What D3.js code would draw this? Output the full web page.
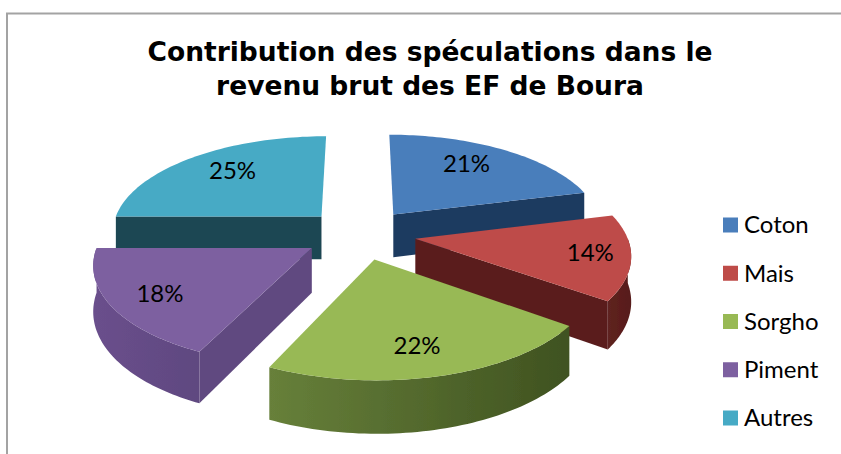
<!DOCTYPE html>
<html><head><meta charset="utf-8">
<script src="https://cdn.jsdelivr.net/npm/d3@7"></script>
<style>html,body{margin:0;padding:0;background:#fff}svg{display:block}</style>
</head><body><svg id="c" width="841" height="454"></svg>
<script>
const categories = ["Coton","Mais","Sorgho","Piment","Autres"];
const values = [21,14,22,18,25];
const topColors = ["#4a7ebb","#be4b48","#98b954","#7d60a0","#46aac5"];
const wallColors = ["#1f3a60","#5a1f1e","#3f5220","#614a80","#1f4652"];
const rimLeft = ["#1f3a60","#5e2220","#67803a","#6a4f8c","#1f4652"];
const rimRight = ["#1f3a60","#581c1b","#3f5220","#5f4880","#1f4652"];
const titleLines = ["Contribution des spéculations dans le","revenu brut des EF de Boura"];

const labelRadius = [0.66,0.86,0.74,0.78,0.7];
const labelNudgeX = [-2,-10,-4,2,4];
const labelNudgeY = [-8,-3,2,0,-5];
const drawOrder = [4,0,1,3,2];
const cx=360, cy=234, R=211, A=96, K=0.14, EXPLODE=0.265, DEPTH=44;

const svg=d3.select("#c");
const defs=svg.append("defs");
defs.append("filter").attr("id","soft").attr("x","-5%").attr("y","-5%").attr("width","110%").attr("height","110%")
  .append("feGaussianBlur").attr("stdDeviation",0.6);
const arcs=d3.pie().sort(null).startAngle(0).endAngle(2*Math.PI)(values);
const line=d3.line().x(d=>d[0]).y(d=>d[1]);

function project(arc,theta,r,h){
  const mid=(arc.startAngle+arc.endAngle)/2;
  const X=r*Math.sin(theta)+EXPLODE*Math.sin(mid);
  const Z=-r*Math.cos(theta)-EXPLODE*Math.cos(mid);
  const s=1/(1-K*Z);
  return [cx+R*X*s, cy+A*Z*s+h*s];
}
function rim(arc,a0,a1,h){
  return d3.range(0,61).map(i=>project(arc,a0+(a1-a0)*i/60,1,h));
}
function wall(arc,theta){
  return [project(arc,theta,0,0),project(arc,theta,1,0),project(arc,theta,1,DEPTH),project(arc,theta,0,DEPTH)];
}

svg.append("path").attr("d","M841,13.5H7V454").attr("fill","none").attr("stroke","#a3a3a3").attr("stroke-width",2);

const g=svg.append("g").attr("filter","url(#soft)");
drawOrder.forEach(i=>{
  const arc=arcs[i], a0=arc.startAngle, a1=arc.endAngle;
  if(Math.sin(a0)<-1e-6) g.append("path").attr("d",line(wall(arc,a0))+"Z").attr("fill",wallColors[i]);
  if(Math.sin(a1)>1e-6) g.append("path").attr("d",line(wall(arc,a1))+"Z").attr("fill",wallColors[i]);
  const f0=Math.max(a0,Math.PI/2), f1=Math.min(a1,3*Math.PI/2);
  if(f1>f0){
    const up=rim(arc,f0,f1,0), down=rim(arc,f0,f1,DEPTH).reverse();
    const xs=up.map(d=>d[0]);
    const id="w"+i;
    const gr=defs.append("linearGradient").attr("id",id).attr("gradientUnits","userSpaceOnUse")
      .attr("x1",d3.min(xs)).attr("x2",d3.max(xs)).attr("y1",0).attr("y2",0);
    gr.append("stop").attr("offset",0).attr("stop-color",rimLeft[i]);
    gr.append("stop").attr("offset",1).attr("stop-color",rimRight[i]);
    g.append("path").attr("d",line(up.concat(down))+"Z").attr("fill",`url(#${id})`);
  }
  const top=[project(arc,a0,0,0)].concat(rim(arc,a0,a1,0));
  g.append("path").attr("d",line(top)+"Z").attr("fill",topColors[i]);
});

arcs.forEach((arc,i)=>{
  const p=project(arc,(arc.startAngle+arc.endAngle)/2,labelRadius[i],0);
  svg.append("text").attr("x",p[0]+labelNudgeX[i]).attr("y",p[1]+labelNudgeY[i]+1).attr("dy","0.35em").attr("text-anchor","middle")
    .attr("font-family","Lato, 'Open Sans', sans-serif").attr("font-size",24).attr("fill","#000").text(values[i]+"%");
});

svg.selectAll("text.t").data(titleLines).join("text").attr("class","t")
  .attr("x",430).attr("y",(d,i)=>61+i*33.5).attr("text-anchor","middle")
  .attr("font-family","'DejaVu Sans',sans-serif").attr("font-weight","bold").attr("font-size",26.5).attr("fill","#000").text(d=>d);

const ly=d3.scalePoint().domain(categories).range([225,418]);
const lg=svg.selectAll("g.l").data(categories).join("g").attr("class","l").attr("transform",d=>`translate(723,${ly(d)})`);
lg.append("rect").attr("y",-7.5).attr("width",15).attr("height",15).attr("fill",(d,i)=>topColors[i]);
lg.append("text").attr("x",21).attr("dy","0.35em").attr("font-family","Lato, 'Open Sans', sans-serif").attr("font-size",24).attr("fill","#000").text(d=>d);
</script></body></html>
